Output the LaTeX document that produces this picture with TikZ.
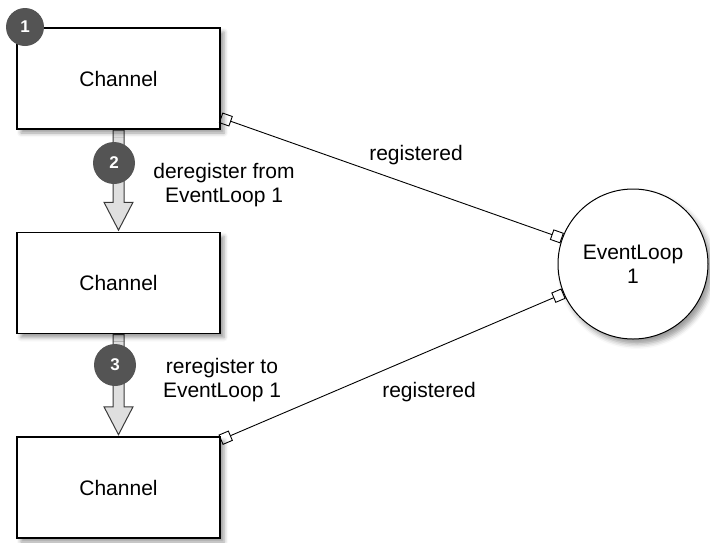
\documentclass[tikz,border=0pt]{standalone}
\usepackage{fontspec}
\setmainfont{Liberation Sans}
\usepackage{tikz}
\usetikzlibrary{
    arrows.meta,
    shapes.arrows,
    shadows.blur,
    backgrounds,
    positioning
}
\definecolor{markgray}{rgb}{0.33, 0.33, 0.33}
\tikzstyle{box} = [
    draw=black,
    line width=1.3pt,
    fill=white,
    minimum width=203pt,
    minimum height=101pt,
    blur shadow={shadow xshift=4pt, shadow yshift=-4pt, shadow blur radius=4pt}
]
\tikzstyle{loopnode} = [
    circle,
    draw=black,
    line width=1pt,
    fill=white,
    minimum size=150pt,
    align=center,
    blur shadow={shadow xshift=4pt, shadow yshift=-5pt, shadow blur radius=5pt}
]
\tikzstyle{stepmark} = [
    circle,
    fill=markgray,
    text=white,
    inner sep=0pt,
    font=\bfseries\fontsize{17}{17}\selectfont
]
\tikzstyle{movearrow} = [
    single arrow,
    draw=gray!45!black,
    fill=gray!25,
    line width=1pt,
    inner sep=5pt,
    single arrow head extend=9pt,
    single arrow tip angle=55,
    minimum height=100pt,
    rotate=-90,
    anchor=tail
]
\tikzstyle{link} = [
    {Square[open,length=11pt,width=11pt]}-{Square[open,length=11pt,width=11pt]},
    line width=0.9pt
]

\begin{document}
\begin{tikzpicture}[x=1pt, y=-1pt, font=\fontsize{21}{24}\selectfont]
        \useasboundingbox (0,0) rectangle (710,542);

        % Channel boxes
        \node[box] (ch1) at (118.5,78.5) {Channel};
        \node[box] (ch2) at (118.5,283) {Channel};
        \node[box] (ch3) at (118.5,487.5) {Channel};

        % EventLoop
        \node[loopnode] (loop) at (633,264) {EventLoop\\1};

        % Moves between the steps
        \begin{scope}[on background layer]
            \node[movearrow] (mv1) at (ch1.south) {};
            \node[movearrow] (mv2) at (ch2.south) {};
        \end{scope}

        % Step marks
        \node[stepmark, minimum size=38pt] (s1) at (25,27) {1};
        \node[stepmark, minimum size=42pt] (s2) at (114,163) {2};
        \node[stepmark, minimum size=42pt] (s3) at (115,365) {3};

        \node[align=center] (dereg) at (224,185) {deregister from\\EventLoop 1};
        \node[align=center] (rereg) at (222,380) {reregister to\\EventLoop 1};

        % Registrations
        \draw[link] (ch1.-21) -- (loop.160);
        \draw[link] (ch3.25) -- (loop.-157);
        \node (reg1) at (416,155) {registered};
        \node (reg2) at (429,392) {registered};
    \end{tikzpicture}
\end{document}
